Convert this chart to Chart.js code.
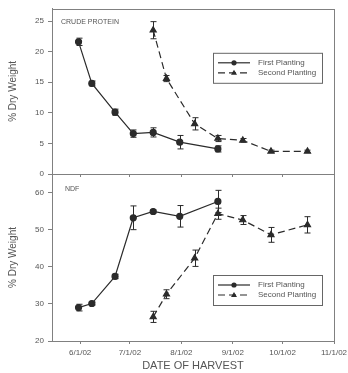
<!DOCTYPE html>
<html>
<head>
<meta charset="utf-8">
<script src="https://cdn.jsdelivr.net/npm/chart.js@4.4.1/dist/chart.umd.min.js"></script>
<style>
  html, body { margin: 0; padding: 0; background: #fff; }
  #wrap { position: relative; width: 348px; height: 373px; }
  #wrap canvas { position: absolute; left: 0; top: 0; }
</style>
</head>
<body>
<div id="wrap">
  <canvas id="proteinChart" width="348" height="373"></canvas>
  <canvas id="ndfChart" width="348" height="373"></canvas>
</div>
<script>
// harvest dates
const firstDates = ['5/31/02', '6/8/02', '6/22/02', '7/3/02', '7/15/02', '7/31/02', '8/23/02'];
const secondDates = ['7/15/02', '7/23/02', '8/9/02', '8/23/02', '9/7/02', '9/24/02', '10/16/02'];

// crude protein (% dry weight) with error bars
const proteinFirst = [21.6, 14.8, 10.1, 6.6, 6.8, 5.2, 4.1];
const proteinFirstErr = [0.6, 0.4, 0.5, 0.6, 0.75, 1.1, 0.5];
const proteinSecond = [23.5, 15.6, 8.2, 5.8, 5.5, 3.7, 3.7];
const proteinSecondErr = [1.4, 0.5, 1.0, 0.5, 0.3, 0.2, 0.2];

// NDF (% dry weight) with error bars
const ndfFirst = [29.0, 30.1, 37.4, 53.2, 54.9, 53.6, 57.6];
const ndfFirstErr = [0.9, 0.4, 0.6, 3.2, 0.4, 2.9, 3.0];
const ndfSecond = [26.5, 32.6, 42.3, 54.3, 52.6, 48.6, 51.3];
const ndfSecondErr = [1.5, 1.2, 2.2, 1.5, 1.2, 2.0, 2.2];

// axis ticks
const xTickLabels = ['6/1/02', '7/1/02', '8/1/02', '9/1/02', '10/1/02', '11/1/02'];
const proteinTicks = [0, 5, 10, 15, 20, 25];
const ndfTicks = [20, 30, 40, 50, 60];

const seriesNames = ['First Planting', 'Second Planting'];

const INK = '#2b2b2b';
const AXIS = '#808080';
const TXT = '#555';
const FONT = 'Liberation Sans, Arial, sans-serif';

function dayOfYear(s) {
  const [m, d, y] = s.split('/').map(Number);
  return (Date.UTC(2000 + y, m - 1, d) - Date.UTC(2000 + y, 0, 0)) / 864e5;
}

const xTickDays = xTickLabels.map(dayOfYear);
const xMin = dayOfYear('5/15/02');

function points(dates, values) {
  return dates.map((d, i) => ({ x: dayOfYear(d), y: values[i] }));
}

// vertical error bars drawn through the chart scales
const errorBars = {
  id: 'errorBars',
  afterDatasetsDraw(chart) {
    const ctx = chart.ctx;
    const xs = chart.scales.x, ys = chart.scales.y;
    ctx.save();
    ctx.strokeStyle = INK;
    ctx.lineWidth = 1;
    chart.data.datasets.forEach(ds => {
      ds.data.forEach((p, i) => {
        const e = ds.errors[i];
        const px = Math.round(xs.getPixelForValue(p.x)) + 0.5;
        const top = ys.getPixelForValue(p.y + e);
        const bot = ys.getPixelForValue(p.y - e);
        ctx.beginPath();
        ctx.moveTo(px, top); ctx.lineTo(px, bot);
        ctx.moveTo(px - 3, top); ctx.lineTo(px + 3, top);
        ctx.moveTo(px - 3, bot); ctx.lineTo(px + 3, bot);
        ctx.stroke();
      });
    });
    ctx.restore();
  }
};

// frame, panel label and boxed legend
const panelDecor = {
  id: 'panelDecor',
  afterDraw(chart, args, opts) {
    const ctx = chart.ctx;
    const a = chart.chartArea;
    ctx.save();
    ctx.strokeStyle = AXIS;
    ctx.lineWidth = 1;
    ctx.strokeRect(Math.round(a.left) + 0.5, Math.round(a.top) + 0.5,
      Math.round(a.right - a.left), Math.round(a.bottom - a.top));

    ctx.fillStyle = TXT;
    ctx.font = '7px ' + FONT;
    ctx.textBaseline = 'middle';
    ctx.fillText(opts.label, a.left + opts.labelDx, a.top + opts.labelDy);

    const bx = a.left + 161, by = a.top + opts.legendDy, bw = 109, bh = 30;
    ctx.fillStyle = '#fff';
    ctx.fillRect(bx, by, bw, bh);
    ctx.strokeStyle = '#666';
    ctx.strokeRect(bx + 0.5, by + 0.5, bw, bh);
    chart.data.datasets.forEach((ds, i) => {
      const y = by + 10 + i * 10;
      ctx.strokeStyle = INK;
      ctx.lineWidth = 1.2;
      ctx.setLineDash(ds.borderDash || []);
      ctx.beginPath();
      ctx.moveTo(bx + 5, y); ctx.lineTo(bx + 37, y);
      ctx.stroke();
      ctx.setLineDash([]);
      ctx.fillStyle = INK;
      ctx.beginPath();
      if (ds.pointStyle === 'triangle') {
        ctx.moveTo(bx + 21, y - 3); ctx.lineTo(bx + 24, y + 2); ctx.lineTo(bx + 18, y + 2);
      } else {
        ctx.arc(bx + 21, y, 2.6, 0, Math.PI * 2);
      }
      ctx.fill();
      ctx.fillStyle = TXT;
      ctx.font = '8px ' + FONT;
      ctx.fillText(ds.label, bx + 45, y);
    });
    ctx.restore();
  }
};

function makePanel(id, cfg) {
  return new Chart(id, {
    type: 'line',
    data: {
      datasets: [
        {
          label: seriesNames[0],
          data: points(firstDates, cfg.first),
          errors: cfg.firstErr,
          borderColor: INK, backgroundColor: INK, borderWidth: 1.2,
          pointStyle: 'circle', pointRadius: 3, tension: 0
        },
        {
          label: seriesNames[1],
          data: points(secondDates, cfg.second),
          errors: cfg.secondErr,
          borderColor: INK, backgroundColor: INK, borderWidth: 1.2,
          borderDash: [7, 4],
          pointStyle: 'triangle', pointRadius: 3.5, tension: 0
        }
      ]
    },
    options: {
      responsive: false,
      animation: false,
      layout: { padding: cfg.padding },
      plugins: {
        legend: { display: false },
        tooltip: { enabled: false },
        panelDecor: cfg.decor
      },
      scales: {
        x: {
          type: 'linear',
          min: xMin, max: xTickDays[xTickDays.length - 1],
          afterBuildTicks: s => { s.ticks = xTickDays.map(v => ({ value: v })); },
          afterFit: s => { s.height = cfg.xHeight; s.paddingLeft = 0; s.paddingRight = 0; },
          grid: { drawOnChartArea: false, drawTicks: true, tickLength: 3, color: AXIS },
          border: { color: AXIS },
          ticks: {
            display: cfg.showX,
            autoSkip: false, maxRotation: 0, padding: 4,
            color: TXT, font: { family: FONT, size: 8 },
            callback: (v) => xTickLabels[xTickDays.indexOf(v)]
          },
          title: {
            display: cfg.showX, text: 'DATE OF HARVEST',
            color: TXT, font: { family: FONT, size: 11 }, padding: { top: 0, bottom: 0 }
          }
        },
        y: {
          min: cfg.yMin, max: cfg.yMax,
          afterBuildTicks: s => { s.ticks = cfg.yTicks.map(v => ({ value: v })); },
          afterFit: s => { s.width = 52; },
          grid: { drawOnChartArea: false, drawTicks: true, tickLength: 4, color: AXIS },
          border: { color: AXIS },
          ticks: { color: TXT, font: { family: FONT, size: 8 }, padding: 4 },
          title: {
            display: true, text: '% Dry Weight',
            color: TXT, font: { family: FONT, size: 10 }, padding: { top: 7, bottom: 0 }
          }
        }
      }
    },
    plugins: [errorBars, panelDecor]
  });
}

makePanel('proteinChart', {
  first: proteinFirst, firstErr: proteinFirstErr,
  second: proteinSecond, secondErr: proteinSecondErr,
  yMin: 0, yMax: 27, yTicks: proteinTicks,
  showX: false, xHeight: 3,
  padding: { top: 7, right: 14, bottom: 196, left: 0 },
  decor: { label: 'CRUDE PROTEIN', labelDx: 9, labelDy: 13, legendDy: 44 }
});

makePanel('ndfChart', {
  first: ndfFirst, firstErr: ndfFirstErr,
  second: ndfSecond, secondErr: ndfSecondErr,
  yMin: 20, yMax: 65, yTicks: ndfTicks,
  showX: true, xHeight: 32,
  padding: { top: 174, right: 14, bottom: 0, left: 0 },
  decor: { label: 'NDF', labelDx: 13, labelDy: 15, legendDy: 101 }
});
</script>
</body>
</html>
